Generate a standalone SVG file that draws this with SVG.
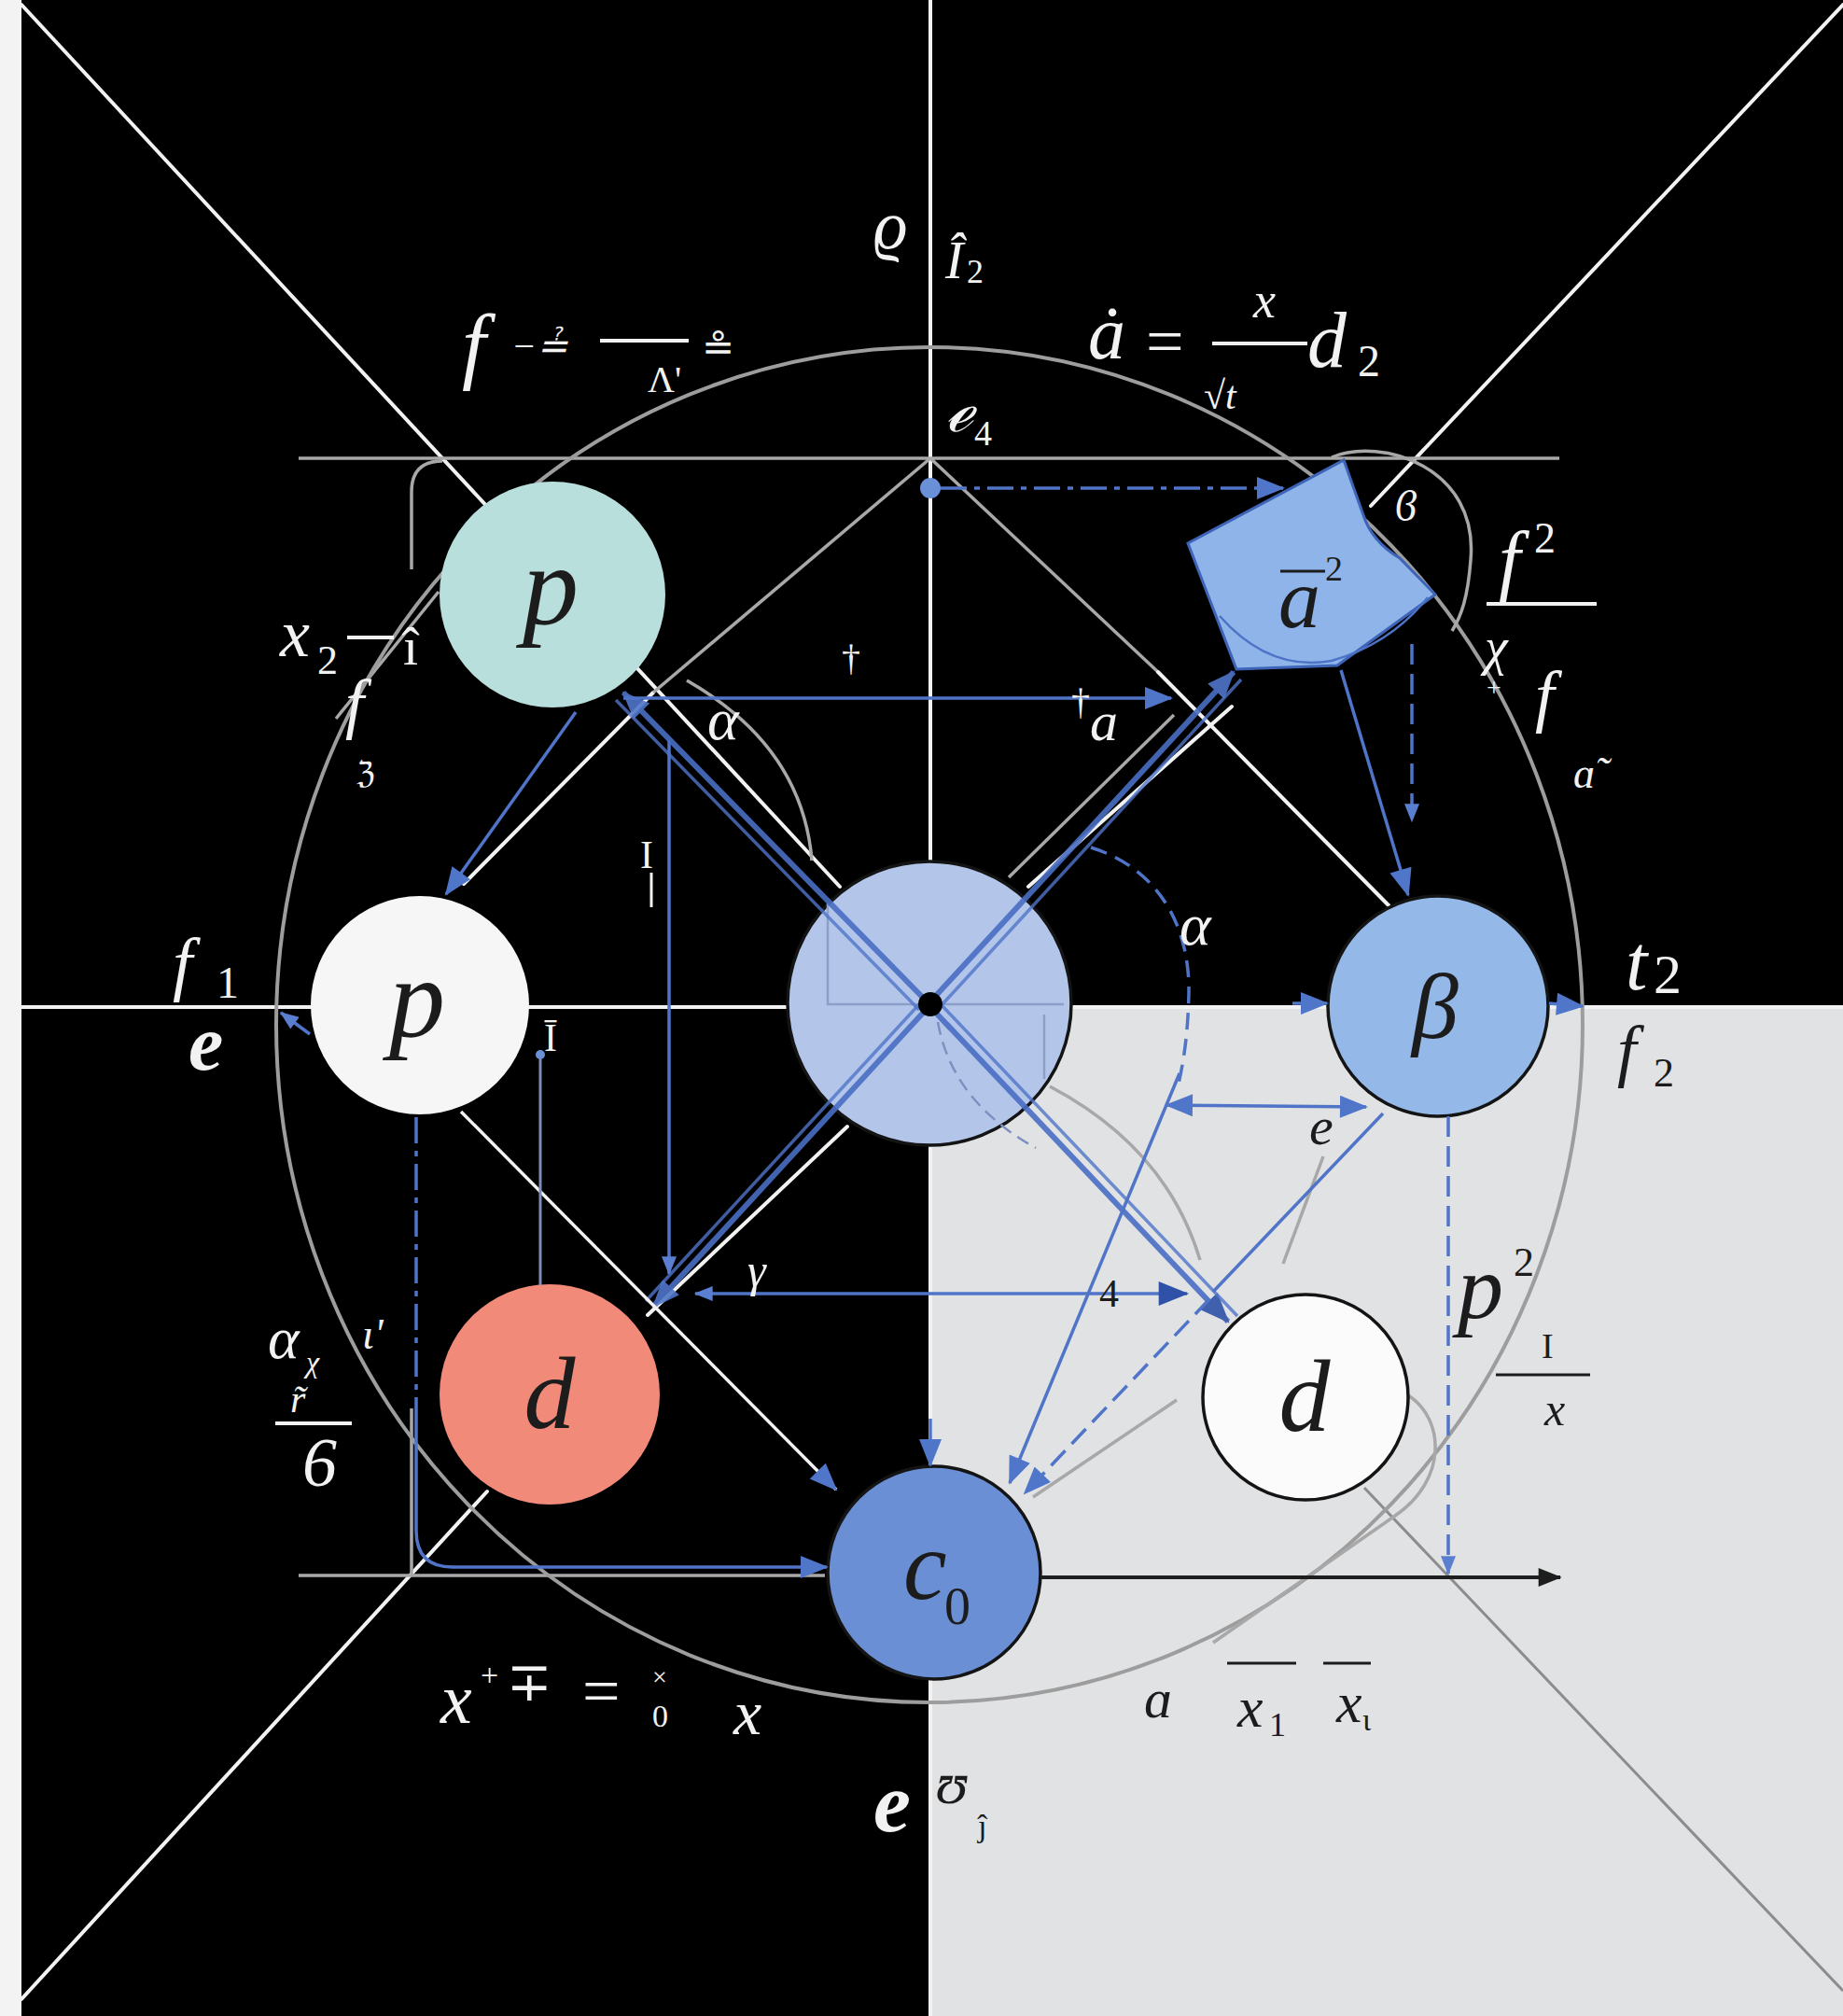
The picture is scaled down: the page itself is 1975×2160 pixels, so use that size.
<svg xmlns="http://www.w3.org/2000/svg" width="1975" height="2160" viewBox="0 0 1975 2160">
<style>
.m{font-family:"Liberation Serif","DejaVu Serif",serif;font-style:italic}
.n{font-family:"Liberation Serif","DejaVu Serif",serif;font-style:normal}
.w{fill:#f2f2f2}
.k{fill:#1c1c1c}
.wl{stroke:#f2f2f2;stroke-width:4;fill:none;stroke-linecap:round}
.gl{stroke:#a8a8a8;stroke-width:3.5;fill:none}
.bl{stroke:#4f74c8;stroke-width:3.5;fill:none}
.bt{stroke:#4a6ec4;stroke-width:6;fill:none}
.ds{stroke-dasharray:22 10}
.dd{stroke-dasharray:28 8 6 8}
.nd{stroke:#141414;stroke-width:3.5}
.bar{stroke-width:4}
</style>
<defs>
<marker id="ab" viewBox="0 0 30 24" refX="28" refY="12" markerWidth="32" markerHeight="24" markerUnits="userSpaceOnUse" orient="auto-start-reverse"><path d="M0,0 L30,12 L0,24 Z" fill="#5076ca"/></marker>
<marker id="abs" viewBox="0 0 30 24" refX="28" refY="12" markerWidth="22" markerHeight="16" markerUnits="userSpaceOnUse" orient="auto-start-reverse"><path d="M0,0 L30,12 L0,24 Z" fill="#5a7fd0"/></marker>
<marker id="abd" viewBox="0 0 30 24" refX="28" refY="12" markerWidth="34" markerHeight="26" markerUnits="userSpaceOnUse" orient="auto-start-reverse"><path d="M0,0 L30,12 L0,24 Z" fill="#2f52a8"/></marker>
<marker id="ak" viewBox="0 0 30 24" refX="28" refY="12" markerWidth="34" markerHeight="20" markerUnits="userSpaceOnUse" orient="auto"><path d="M0,0 L30,12 L0,24 Z" fill="#1e1e1e"/></marker>
</defs>

<!-- background -->
<rect x="0" y="0" width="1975" height="2160" fill="#000"/>
<rect x="997" y="1079" width="978" height="1081" fill="#e1e2e4"/>
<rect x="0" y="0" width="23" height="2160" fill="#f3f3f3"/>

<!-- guide lines -->
<g id="guides">
<line class="wl" x1="997" y1="0" x2="997" y2="2160"/>
<line class="wl" x1="23" y1="1079" x2="1975" y2="1079"/>
<line class="wl" x1="23" y1="5" x2="900" y2="950"/>
<line class="wl" x1="1975" y1="5" x2="1469" y2="542"/>
<line class="wl" x1="1320" y1="757" x2="1102" y2="950"/>
<line class="wl" x1="23" y1="2142" x2="522" y2="1598"/>
<line class="wl" x1="694" y1="1409" x2="908" y2="1207"/>
<line stroke="#8c8c8c" stroke-width="3" x1="1462" y1="1594" x2="1975" y2="2133"/>
<line class="wl" x1="497" y1="947" x2="700" y2="742"/>
<line class="gl" x1="700" y1="742" x2="997" y2="491"/>
<line class="gl" x1="997" y1="491" x2="1241" y2="720"/>
<line class="wl" x1="1241" y1="720" x2="1488" y2="970" stroke-width="3.5"/>
<line class="gl" x1="320" y1="491" x2="1671" y2="491" stroke="#bdbdbd"/>
<line class="gl" x1="320" y1="1688" x2="884" y2="1688" stroke="#bdbdbd"/>
<path class="gl" d="M441,610 V527 Q441,494 474,494"/>
<line class="gl" x1="441" y1="1509" x2="441" y2="1688"/>
<line class="gl" x1="470" y1="634" x2="360" y2="770"/>
<ellipse cx="996" cy="1098" rx="700" ry="726" fill="none" stroke="#9d9d9d" stroke-width="4"/>
<path class="gl" d="M1427,490 C1480,468 1585,500 1576,600 C1573,640 1566,660 1556,676"/>
<path class="gl" d="M1509,1495 C1548,1520 1552,1585 1495,1624 L1300,1760"/>
<line class="gl" x1="1081" y1="940" x2="1258" y2="766" stroke="#8a8a8a"/>
<path class="gl" d="M736,729 Q860,800 870,922" stroke="#8a8a8a" stroke-width="2.5"/>
<path class="gl" d="M1125,1164 Q1250,1230 1286,1350" stroke="#8a8a8a" stroke-width="2.5"/>
<line class="gl" x1="1418" y1="1239" x2="1375" y2="1354" stroke="#8a8a8a" stroke-width="2.5"/>
<line class="gl" x1="1261" y1="1500" x2="1107" y2="1604" stroke="#8a8a8a" stroke-width="2.5"/>
</g>

<!-- nodes -->
<g id="node-p-teal"><circle cx="592" cy="637" r="121" fill="#b9dfdc"/><text class="m k" x="590" y="668" font-size="120" text-anchor="middle">p</text></g>
<g id="node-p-white"><circle cx="450" cy="1077" r="117" fill="#f6f6f6"/><text class="m k" x="447" y="1110" font-size="120" text-anchor="middle">p</text></g>
<g id="node-center"><circle cx="996" cy="1075" r="152" fill="#b3c6ea" class="nd"/>
<path d="M887,968 V1076 H1140 M1119,1087 V1156" fill="none" stroke="#8d9fc8" stroke-width="2.5"/>
<path d="M1005,1095 Q1020,1180 1110,1230" fill="none" stroke="#7d90c0" stroke-width="2.5" stroke-dasharray="14 8"/>
</g>
<g id="node-beta"><circle cx="1541" cy="1078" r="118" fill="#94b8e7" class="nd"/><text class="m k" x="1538" y="1112" font-size="100" text-anchor="middle">β</text></g>
<g id="node-d-red"><circle cx="589" cy="1494" r="118" fill="#f28a7a"/><text class="m k" x="589" y="1530" font-size="110" text-anchor="middle">d</text></g>
<g id="node-d-white"><circle cx="1399" cy="1497" r="110" fill="#fbfbfb" class="nd"/><text class="m k" x="1398" y="1533" font-size="110" text-anchor="middle">d</text></g>
<g id="node-c0"><circle cx="1001" cy="1685" r="114" fill="#6b8fd5" class="nd"/><text class="m k" x="968" y="1713" font-size="105">c</text><text class="n k" x="1012" y="1740" font-size="56">0</text></g>
<g id="node-a2"><path d="M1273,582 L1440,493 L1461,552 Q1470,580 1500,598 L1538,637 L1433,713 L1325,717 Z" fill="#8fb4ea" stroke="#3e64b8" stroke-width="3"/>
<path d="M1307,660 Q1360,720 1427,708 Q1490,690 1530,640" fill="none" stroke="#4d73c6" stroke-width="2.5"/>
<line x1="1372" y1="612" x2="1420" y2="612" stroke="#1c1c1c" stroke-width="3"/>
<text class="m k" x="1370" y="672" font-size="90">a</text><text class="n k" x="1420" y="622" font-size="38">2</text></g>

<!-- connectors -->
<g id="connectors">
<circle cx="997" cy="523" r="11" fill="#6a90d8"/>
<line class="bl dd" x1="1008" y1="523" x2="1375" y2="523" marker-end="url(#ab)"/>
<line class="bl" x1="668" y1="748" x2="1255" y2="748" marker-end="url(#ab)"/>
<line class="bl" x1="617" y1="763" x2="478" y2="958" marker-end="url(#ab)"/>
<line class="bl" x1="717" y1="793" x2="717" y2="1365" marker-end="url(#abs)"/>
<line class="bt" x1="996" y1="1076" x2="668" y2="742" marker-end="url(#ab)" opacity="0.9"/>
<line class="bl" x1="985" y1="1082" x2="660" y2="750" opacity="0.8"/>
<line class="bt" x1="1000" y1="1070" x2="1322" y2="720" marker-end="url(#ab)" opacity="0.9"/>
<line class="bl" x1="1008" y1="1078" x2="1330" y2="728" opacity="0.8"/>
<line class="bt" x1="992" y1="1082" x2="700" y2="1400" marker-end="url(#ab)" opacity="0.9"/>
<line class="bl" x1="985" y1="1076" x2="692" y2="1394" opacity="0.8"/>
<line class="bt" x1="1000" y1="1082" x2="1316" y2="1416" marker-end="url(#abd)" opacity="0.9"/>
<line class="bl" x1="1010" y1="1078" x2="1326" y2="1410" opacity="0.8"/>
<line class="bl" x1="745" y1="1386" x2="1272" y2="1386" marker-start="url(#abs)" marker-end="url(#abd)"/>
<path class="bl" d="M1169,908 C1240,930 1275,990 1274,1064 C1273,1110 1268,1140 1262,1165" stroke-dasharray="18 10"/>
<line class="bl" x1="1264" y1="1150" x2="1082" y2="1589" marker-end="url(#ab)"/>
<line class="bl" x1="1250" y1="1184" x2="1464" y2="1186" marker-start="url(#ab)" marker-end="url(#ab)"/>
<line class="bl" x1="1482" y1="1193" x2="1300" y2="1384"/>
<line class="bl ds" x1="1296" y1="1392" x2="1098" y2="1600" marker-end="url(#ab)"/>
<line stroke="#f2f2f2" stroke-width="3.5" x1="494" y1="1191" x2="896" y2="1596" marker-end="url(#ab)"/>
<line class="bl" x1="997" y1="1520" x2="997" y2="1570" marker-end="url(#ab)"/>
<line class="bl dd" x1="446" y1="1197" x2="446" y2="1505"/>
<path class="bl" d="M446,1505 V1640 Q446,1679 485,1679 H886" marker-end="url(#ab)"/>
<line stroke="#7d8fb5" stroke-width="3" x1="579" y1="1377" x2="579" y2="1132"/>
<circle cx="579" cy="1130" r="5" fill="#6a90d8"/>
<line class="bl" x1="332" y1="1108" x2="301" y2="1085" marker-end="url(#abs)"/>
<line class="bl" x1="1437" y1="718" x2="1509" y2="959" marker-end="url(#ab)"/>
<line class="bl ds" x1="1513" y1="690" x2="1513" y2="880" marker-end="url(#abs)"/>
<line class="bl" x1="1660" y1="1075" x2="1696" y2="1078" marker-end="url(#ab)"/>
<line class="bl" x1="1385" y1="1075" x2="1422" y2="1075" marker-end="url(#ab)"/>
<line class="bl ds" x1="1552" y1="1196" x2="1552" y2="1686" stroke-width="3" marker-end="url(#abs)"/>
<line stroke="#1e1e1e" stroke-width="4" x1="1115" y1="1690" x2="1672" y2="1690" marker-end="url(#ak)"/>
<circle cx="997" cy="1076" r="13" fill="#000"/>
</g>

<!-- labels -->
<g id="labels">
<text class="m w" x="936" y="266" font-size="72">ϱ</text>
<text class="m w" x="1013" y="298" font-size="58">Î</text><text class="n w" x="1036" y="303" font-size="36">2</text>
<text class="m w" x="1012" y="462" font-size="66">ℯ</text><text class="n w" x="1044" y="477" font-size="38">4</text>
<text class="m w" x="495" y="400" font-size="92">f</text>
<text class="m w" x="548" y="384" font-size="40">−≟</text>
<line x1="643" y1="365" x2="738" y2="365" stroke="#f2f2f2" class="bar"/>
<text class="n w" x="694" y="420" font-size="40">Λ'</text>
<text class="n w" x="752" y="386" font-size="42">≗</text>
<text class="m w" x="1166" y="384" font-size="80">ȧ</text>
<text class="n w" x="1228" y="390" font-size="72">=</text>
<line x1="1299" y1="368" x2="1401" y2="368" stroke="#f2f2f2" class="bar"/>
<text class="m w" x="1343" y="340" font-size="54">x</text>
<text class="m w" x="1290" y="438" font-size="42">√t</text>
<text class="m w" x="1401" y="393" font-size="84">d</text><text class="n w" x="1455" y="403" font-size="48">2</text>
<text class="m w" x="300" y="703" font-size="72">x</text><text class="n w" x="340" y="722" font-size="44">2</text>
<line x1="372" y1="683" x2="422" y2="683" stroke="#f2f2f2" class="bar"/>
<text class="n w" x="432" y="712" font-size="58">î</text>
<text class="m w" x="370" y="778" font-size="72">f</text>
<text class="n w" x="382" y="840" font-size="34">ℨ</text>
<text class="m w" x="185" y="1058" font-size="76">f</text><text class="n w" x="232" y="1069" font-size="48">1</text>
<text class="m w" x="202" y="1146" font-size="84" font-weight="bold">e</text>
<text class="n w" x="583" y="1126" font-size="42">Ī</text>
<text class="n w" x="902" y="718" font-size="40">†</text>
<text class="m w" x="758" y="792" font-size="64">α</text>
<text class="n w" x="1148" y="765" font-size="40">†</text><text class="m w" x="1168" y="793" font-size="60">a</text>
<text class="n w" x="686" y="930" font-size="42">I</text>
<line x1="698" y1="935" x2="698" y2="972" stroke="#f2f2f2" stroke-width="3"/>
<text class="m w" x="1264" y="1012" font-size="64">α</text>
<text class="m w" x="801" y="1378" font-size="50">γ</text>
<text class="m w" x="1742" y="1060" font-size="84">t</text><text class="n w" x="1772" y="1064" font-size="60">2</text>
<text class="m w" x="1606" y="628" font-size="84">f</text><text class="n w" x="1644" y="592" font-size="46">2</text>
<line x1="1593" y1="647" x2="1711" y2="647" stroke="#f2f2f2" class="bar"/>
<text class="m w" x="1591" y="712" font-size="56">χ</text>
<text class="n w" x="1593" y="746" font-size="28">+</text>
<text class="m w" x="1645" y="770" font-size="74">f</text>
<text class="m w" x="1686" y="844" font-size="46">ɑ̃</text>
<text class="m w" x="1495" y="558" font-size="46">ϐ</text>
<text class="m w" x="287" y="1455" font-size="64">α</text><text class="m w" x="328" y="1470" font-size="32">χ</text>
<text class="m w" x="388" y="1445" font-size="46">ι'</text>
<text class="m w" x="311" y="1513" font-size="42">r̃</text>
<line x1="295" y1="1525" x2="377" y2="1525" stroke="#f2f2f2" class="bar"/>
<text class="m w" x="324" y="1592" font-size="74">6</text>
<text class="m w" x="472" y="1846" font-size="76">x</text>
<text class="n w" x="515" y="1806" font-size="34">+</text>
<text class="n w" x="543" y="1822" font-size="58">∓</text>
<text class="n w" x="624" y="1836" font-size="72">=</text>
<text class="n w" x="699" y="1806" font-size="28">×</text>
<text class="n w" x="699" y="1850" font-size="34">0</text>
<text class="m w" x="786" y="1858" font-size="68">x</text>
<text class="m w" x="936" y="1962" font-size="90" font-weight="bold">e</text>
<text class="m k" x="1003" y="1932" font-size="64">ʊ</text><text class="n k" x="1048" y="1968" font-size="34">ĵ</text>
<text class="m k" x="1226" y="1840" font-size="60">ɑ</text>
<line x1="1315" y1="1782" x2="1389" y2="1782" stroke="#1c1c1c" stroke-width="3"/>
<text class="m k" x="1326" y="1850" font-size="62">x</text><text class="n k" x="1360" y="1860" font-size="36">1</text>
<line x1="1418" y1="1782" x2="1469" y2="1782" stroke="#1c1c1c" stroke-width="3"/>
<text class="m k" x="1432" y="1845" font-size="62">x</text><text class="n k" x="1460" y="1854" font-size="34">ι</text>
<text class="n k" x="1652" y="1455" font-size="38">I</text>
<line x1="1603" y1="1473" x2="1704" y2="1473" stroke="#1c1c1c" stroke-width="3"/>
<text class="m k" x="1655" y="1527" font-size="50">x</text>
<text class="m k" x="1562" y="1412" font-size="98">p</text><text class="n k" x="1622" y="1367" font-size="44">2</text>
<text class="m k" x="1733" y="1150" font-size="74">f</text><text class="n k" x="1772" y="1164" font-size="44">2</text>
<text class="m k" x="1403" y="1226" font-size="58">e</text>
<text class="n k" x="1178" y="1400" font-size="42">4</text>
</g>
</svg>
